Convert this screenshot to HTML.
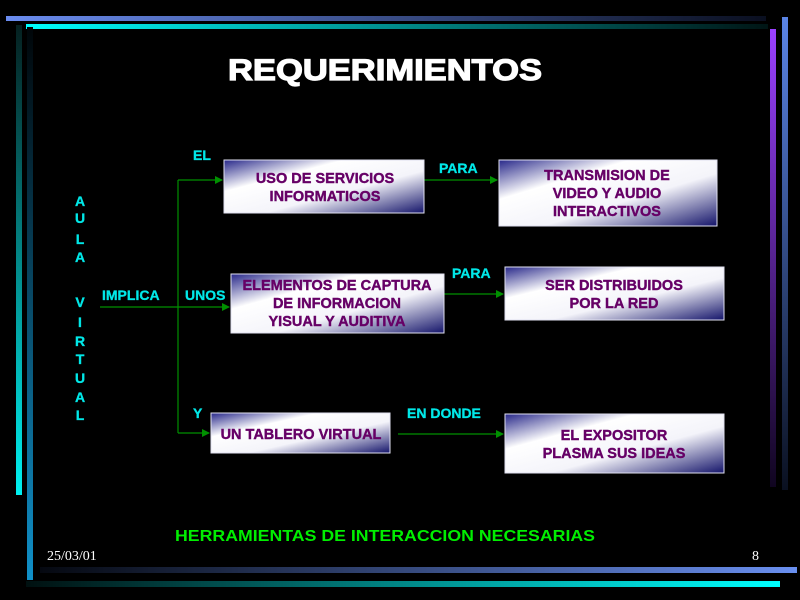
<!DOCTYPE html>
<html><head><meta charset="utf-8"><style>
html,body{margin:0;padding:0;background:#000;width:800px;height:600px;overflow:hidden}
text{font-family:"Liberation Sans",Arial,sans-serif;font-weight:bold}
</style></head><body>
<svg width="800" height="600" viewBox="0 0 800 600" xmlns="http://www.w3.org/2000/svg">
<defs>
<linearGradient id="bt" x1="0" y1="0" x2="1" y2="0"><stop offset="0" stop-color="#6a8cf0"/><stop offset="1" stop-color="#0a0f20"/></linearGradient>
<linearGradient id="ct" x1="0" y1="0" x2="1" y2="0"><stop offset="0" stop-color="#00ffff"/><stop offset="1" stop-color="#001515"/></linearGradient>
<linearGradient id="lc" x1="0" y1="0" x2="0" y2="1"><stop offset="0" stop-color="#052020"/><stop offset="1" stop-color="#00f0f0"/></linearGradient>
<linearGradient id="lb" x1="0" y1="0" x2="0" y2="1"><stop offset="0" stop-color="#000508"/><stop offset="1" stop-color="#1090c8"/></linearGradient>
<linearGradient id="rp" x1="0" y1="0" x2="0" y2="1"><stop offset="0" stop-color="#9a40ff"/><stop offset="1" stop-color="#100520"/></linearGradient>
<linearGradient id="rb" x1="0" y1="0" x2="0" y2="1"><stop offset="0" stop-color="#5a84e6"/><stop offset="1" stop-color="#0a1020"/></linearGradient>
<linearGradient id="bb" x1="0" y1="0" x2="1" y2="0"><stop offset="0" stop-color="#050810"/><stop offset="1" stop-color="#6a90f0"/></linearGradient>
<linearGradient id="bc" x1="0" y1="0" x2="1" y2="0"><stop offset="0" stop-color="#001010"/><stop offset="1" stop-color="#00ffff"/></linearGradient>
<linearGradient id="box" x1="0" y1="0" x2="1" y2="1"><stop offset="0" stop-color="#28288a"/><stop offset="0.3" stop-color="#ffffff"/><stop offset="0.6" stop-color="#f4f4fa"/><stop offset="1" stop-color="#14146a"/></linearGradient>
<marker id="ar" markerWidth="8" markerHeight="8" refX="7" refY="4" orient="auto" markerUnits="userSpaceOnUse"><path d="M0,0 L8,4 L0,8 z" fill="#009000"/></marker>
</defs>
<rect x="6" y="16" width="760" height="5" fill="url(#bt)"/>
<rect x="26" y="24" width="742" height="5" fill="url(#ct)"/>
<rect x="16" y="25" width="6" height="470" fill="url(#lc)"/>
<rect x="27" y="27" width="6" height="553" fill="url(#lb)"/>
<rect x="770" y="29" width="6" height="458" fill="url(#rp)"/>
<rect x="782" y="17" width="6" height="473" fill="url(#rb)"/>
<rect x="40" y="567" width="757" height="6" fill="url(#bb)"/>
<rect x="26" y="581" width="754" height="6" fill="url(#bc)"/>

<text x="385" y="80" fill="#fff" stroke="#fff" stroke-width="1.2" font-size="30" text-anchor="middle" textLength="314" lengthAdjust="spacingAndGlyphs">REQUERIMIENTOS</text>

<g stroke="#009000" stroke-width="1.2" fill="none">
<line x1="178" y1="180" x2="178" y2="433"/>
<line x1="100" y1="307" x2="229" y2="307" marker-end="url(#ar)"/>
<line x1="178" y1="180" x2="222" y2="180" marker-end="url(#ar)"/>
<line x1="178" y1="433" x2="209" y2="433" marker-end="url(#ar)"/>
<line x1="424" y1="180" x2="497" y2="180" marker-end="url(#ar)"/>
<line x1="444" y1="294" x2="503" y2="294" marker-end="url(#ar)"/>
<line x1="398" y1="434" x2="503" y2="434" marker-end="url(#ar)"/>
</g>

<g stroke="#e0e0f0" stroke-width="1" fill="url(#box)">
<rect x="224" y="160" width="200" height="53"/>
<rect x="499" y="160" width="218" height="66"/>
<rect x="231" y="274" width="213" height="59"/>
<rect x="505" y="267" width="219" height="53"/>
<rect x="211" y="413" width="179" height="40"/>
<rect x="505" y="414" width="219" height="59"/>
</g>
<g fill="#660066" stroke="#660066" stroke-width="0.4" font-size="14.5" text-anchor="middle">
<text x="325" y="183">USO DE SERVICIOS</text><text x="325" y="201">INFORMATICOS</text>
<text x="607" y="180">TRANSMISION DE</text><text x="607" y="198">VIDEO Y AUDIO</text><text x="607" y="216">INTERACTIVOS</text>
<text x="337" y="290">ELEMENTOS DE CAPTURA</text><text x="337" y="308">DE INFORMACION</text><text x="337" y="326">YISUAL Y AUDITIVA</text>
<text x="614" y="290">SER DISTRIBUIDOS</text><text x="614" y="308">POR LA RED</text>
<text x="301" y="439">UN TABLERO VIRTUAL</text>
<text x="614" y="440">EL EXPOSITOR</text><text x="614" y="458">PLASMA SUS IDEAS</text>
</g>
<g fill="#00e8e8" stroke="#00e8e8" stroke-width="0.3" font-size="14">
<text x="193" y="160">EL</text>
<text x="439" y="173">PARA</text>
<text x="102" y="300">IMPLICA</text>
<text x="185" y="300">UNOS</text>
<text x="452" y="278">PARA</text>
<text x="193" y="418">Y</text>
<text x="407" y="418">EN DONDE</text>
</g>
<g fill="#00e8e8" stroke="#00e8e8" stroke-width="0.3" font-size="14" text-anchor="middle">
<text x="80" y="206">A</text><text x="80" y="223">U</text><text x="80" y="244">L</text><text x="80" y="262">A</text>
<text x="80" y="307">V</text><text x="80" y="327">I</text><text x="80" y="346">R</text><text x="80" y="364">T</text><text x="80" y="383">U</text><text x="80" y="402">A</text><text x="80" y="420">L</text>
</g>
<text x="385" y="541" fill="#00ee00" font-size="16" text-anchor="middle" textLength="420" lengthAdjust="spacingAndGlyphs">HERRAMIENTAS DE INTERACCION NECESARIAS</text>
<text x="47" y="560" fill="#fff" font-size="14" style="font-family:'Liberation Serif',serif;font-weight:normal">25/03/01</text>
<text x="752" y="560" fill="#fff" font-size="14" style="font-family:'Liberation Serif',serif;font-weight:normal">8</text>
</svg>
</body></html>
